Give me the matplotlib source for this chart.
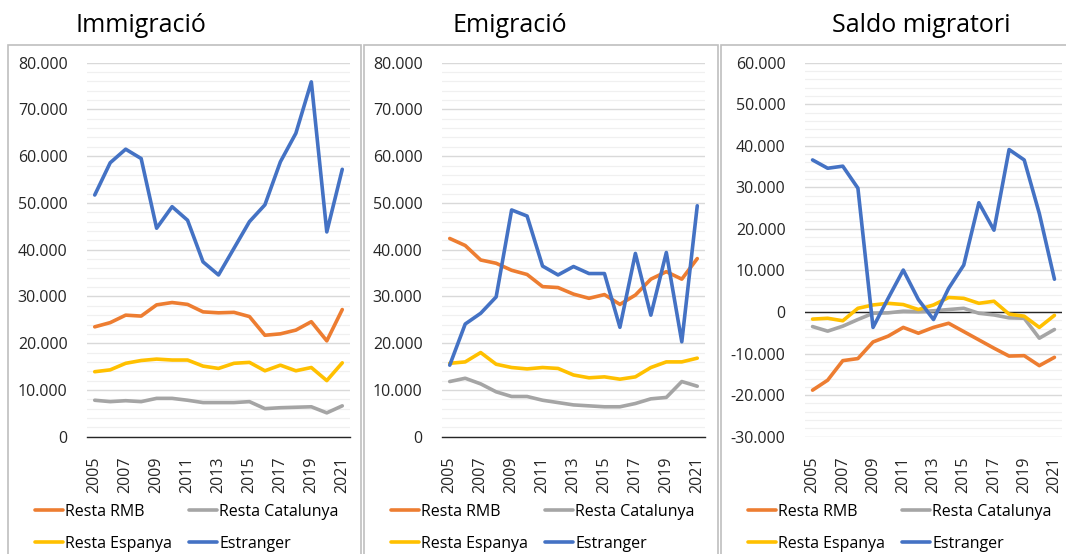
import numpy as np
import matplotlib.pyplot as plt
from matplotlib.patches import Rectangle
from matplotlib.ticker import FuncFormatter, MultipleLocator

years = list(range(2005, 2022))

# Immigració
imm_rmb = [23500, 24400, 26000, 25800, 28200, 28700, 28300, 26700, 26500, 26600,
           25700, 21700, 22000, 22800, 24600, 20500, 27200]
imm_cat = [7800, 7500, 7700, 7500, 8200, 8200, 7800, 7300, 7300, 7300,
           7500, 6000, 6200, 6300, 6400, 5100, 6600]
imm_esp = [13900, 14300, 15700, 16300, 16600, 16400, 16400, 15100, 14600, 15700,
           15900, 14100, 15300, 14100, 14800, 12000, 15800]
imm_ext = [51700, 58600, 61500, 59500, 44600, 49200, 46300, 37400, 34600, 40300,
           46000, 49600, 58800, 64900, 75900, 43800, 57200]

# Emigració
emi_rmb = [42400, 40900, 37800, 37100, 35600, 34700, 32100, 31900, 30500, 29600,
           30400, 28300, 30300, 33700, 35300, 33700, 38100]
emi_cat = [11800, 12500, 11300, 9600, 8600, 8600, 7800, 7300, 6800, 6600,
           6400, 6400, 7100, 8100, 8400, 11800, 10800]
emi_esp = [15700, 16000, 18000, 15500, 14800, 14500, 14800, 14600, 13200, 12600,
           12800, 12300, 12800, 14800, 16000, 16000, 16800]
emi_ext = [15300, 24100, 26400, 29900, 48500, 47200, 36500, 34600, 36400, 34900,
           34900, 23400, 39200, 26000, 39400, 20300, 49400]

# Saldo migratori
sal_rmb = [-18800, -16400, -11700, -11200, -7200, -5800, -3700, -5100, -3700, -2700,
           -4700, -6700, -8700, -10600, -10500, -12900, -10900]
sal_cat = [-3500, -4600, -3400, -1800, -300, -200, 200, 100, 300, 600,
           900, -300, -700, -1400, -1500, -6300, -4200]
sal_esp = [-1700, -1500, -2100, 900, 1700, 2100, 1800, 600, 1700, 3500,
           3300, 2100, 2600, -500, -1000, -3700, -800]
sal_ext = [36600, 34600, 35100, 29800, -3700, 3300, 10100, 3000, -1800, 5700,
           11300, 26300, 19700, 39100, 36600, 23700, 7900]

labels = ["Resta RMB", "Resta Catalunya", "Resta Espanya", "Estranger"]
colors = ["#ED7D31", "#A5A5A5", "#FFC000", "#4472C4"]

panels = [
    ("Immigració", [imm_rmb, imm_cat, imm_esp, imm_ext], (0, 80000)),
    ("Emigració", [emi_rmb, emi_cat, emi_esp, emi_ext], (0, 80000)),
    ("Saldo migratori", [sal_rmb, sal_cat, sal_esp, sal_ext], (-30000, 60000)),
]

font = ["Open Sans", "DejaVu Sans"]

fig = plt.figure(figsize=(10.66, 5.54), dpi=100)
W, H = 1066, 554

# panel frames (pixels: left, right)
frames = [(8, 361), (364, 718), (721, 1070)]
for l, r in frames:
    fig.patches.append(Rectangle((l / W, -0.1), (r - l) / W, (554 - 45) / H + 0.1,
                                 transform=fig.transFigure, fill=False,
                                 edgecolor="#BFBFBF", linewidth=1.2))

axes_px = [(87, 350), (442, 705), (805, 1062)]
title_x = [141, 510, 921]


def thousands(v, pos):
    s = f"{abs(int(v)):,}".replace(",", ".")
    return ("-" if v < 0 else "") + s


x = np.arange(len(years))
for i, (title, series, ylim) in enumerate(panels):
    l, r = axes_px[i]
    ax = fig.add_axes([l / W, (554 - 436.7) / H, (r - l) / W, (436.7 - 62.7) / H])
    ax.set_xlim(-0.5, len(years) - 0.5)
    ax.set_ylim(*ylim)

    ax.yaxis.set_major_locator(MultipleLocator(10000))
    ax.yaxis.set_minor_locator(MultipleLocator(2000))
    ax.grid(axis="y", which="major", color="#D9D9D9", linewidth=1.0)
    ax.grid(axis="y", which="minor", color="#F0F0F0", linewidth=0.9)
    ax.set_axisbelow(True)
    ax.yaxis.set_major_formatter(FuncFormatter(thousands))

    for s in ax.spines.values():
        s.set_visible(False)
    if ylim[0] == 0:
        ax.spines["bottom"].set_visible(True)
        ax.spines["bottom"].set_color("#262626")
        ax.spines["bottom"].set_linewidth(1.0)
    else:
        ax.axhline(0, color="#262626", linewidth=1.0, zorder=1)

    lines = []
    for vals, lab, c in zip(series, labels, colors):
        ln, = ax.plot(x, vals, color=c, linewidth=2.6, label=lab,
                      solid_joinstyle="round", solid_capstyle="round", zorder=3)
        lines.append(ln)

    ax.set_xticks(x[::2])
    ax.set_xticklabels([str(y) for y in years[::2]], rotation=90,
                       family=font, fontsize=11.5, color="#262626")
    ax.tick_params(axis="both", which="both", length=0)
    ax.tick_params(axis="x", pad=14)
    ax.tick_params(axis="y", pad=14)
    for t in ax.get_yticklabels():
        t.set_family(font)
        t.set_fontsize(11.5)
        t.set_color("#262626")

    fig.text(title_x[i] / W, 1 - 25 / H, title, ha="center", va="center",
             family=font, fontsize=18, color="#000000")

    order = [0, 2, 1, 3]
    fig.legend([lines[k] for k in order], [labels[k] for k in order],
               loc="upper left", bbox_to_anchor=((frames[i][0] + 27) / W, 1 - 504 / H),
               ncol=2, frameon=False, borderpad=0, borderaxespad=0,
               handlelength=1.75, handletextpad=0.15,
               columnspacing=1.05, labelspacing=1.0,
               prop={"family": font, "size": 11.5})

fig.savefig("out.png", dpi=100)
